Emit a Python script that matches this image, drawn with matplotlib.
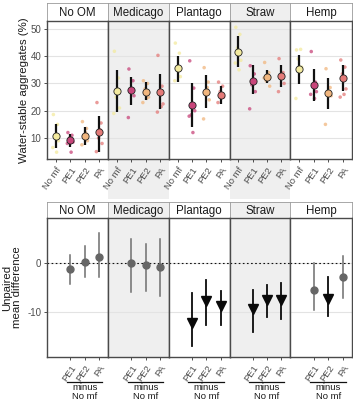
import matplotlib
matplotlib.use("Agg")
import matplotlib.pyplot as plt
from matplotlib.patches import Rectangle
from matplotlib.lines import Line2D
import matplotlib.transforms as mtransforms

plt.rcParams['font.family'] = ['Liberation Sans', 'DejaVu Sans']

treatments = ['No OM', 'Medicago', 'Plantago', 'Straw', 'Hemp']
fungi = ['No mf', 'PE1', 'PE2', 'PA']
shaded = [False, True, False, True, False]

# Top panel: group means and 95% CI of water-stable aggregates (%)
means = [
    [10.8, 9.2, 10.8, 12.2],
    [27.2, 27.5, 27.0, 26.8],
    [35.6, 22.0, 27.0, 25.8],
    [41.7, 31.0, 32.5, 32.7],
    [35.2, 29.4, 26.4, 31.9],
]
ci_lo = [
    [6.3, 6.8, 7.5, 5.0],
    [19.5, 22.0, 24.0, 20.5],
    [30.7, 14.2, 21.0, 22.4],
    [36.2, 26.1, 30.3, 28.6],
    [29.9, 23.6, 20.7, 27.4],
]
ci_hi = [
    [15.2, 11.5, 14.0, 18.0],
    [35.0, 32.5, 30.5, 33.5],
    [40.2, 30.1, 33.0, 29.1],
    [47.4, 36.6, 35.0, 36.6],
    [40.5, 35.2, 32.1, 36.8],
]
raw = [
    [[18.6, 15.0, 11.0, 9.0, 6.5, 4.8], [12.0, 11.0, 10.0, 8.5, 8.0, 4.8],
     [16.0, 13.5, 11.0, 9.0, 7.5, 12.0], [23.0, 15.5, 10.0, 8.0, 5.0, 13.0]],
    [[41.8, 32.0, 25.0, 21.0, 19.0, 28.0], [35.3, 31.0, 27.0, 25.5, 17.5, 28.0],
     [31.0, 30.0, 28.0, 25.0, 23.0, 24.5], [40.3, 29.0, 27.0, 22.5, 19.5, 21.5]],
    [[44.8, 41.1, 35.0, 32.5, 31.0, 36.0], [38.3, 28.3, 18.5, 20.0, 18.0, 12.0],
     [35.8, 30.5, 27.0, 24.0, 17.0, 28.5], [30.5, 29.0, 27.0, 25.0, 23.0, 26.0]],
    [[50.6, 48.0, 43.0, 38.5, 37.5, 35.0], [36.5, 33.5, 29.5, 27.0, 20.7, 31.0],
     [37.7, 34.0, 31.0, 29.0, 32.0, 33.0], [39.1, 34.0, 32.0, 30.0, 27.0, 33.5]],
    [[42.3, 42.5, 39.0, 36.0, 24.5, 35.0], [41.7, 30.5, 29.0, 27.0, 26.0, 24.5],
     [35.4, 28.5, 27.0, 25.5, 15.0, 26.0], [38.6, 36.0, 33.5, 28.0, 25.0, 26.0]],
]

# Bottom panel: unpaired mean difference (PE1, PE2, PA minus No mf)
diff_groups = ['PE1', 'PE2', 'PA']
diff_mean = [
    [-1.2, 0.3, 1.2],
    [0.1, -0.4, -0.8],
    [-12.3, -7.7, -8.8],
    [-9.3, -7.6, -7.6],
    [-5.5, -7.3, -2.8],
]
diff_lo = [
    [-4.3, -2.9, -2.9],
    [-5.9, -5.7, -6.7],
    [-16.9, -12.7, -12.7],
    [-14.0, -11.0, -11.5],
    [-9.6, -10.8, -7.2],
]
diff_hi = [
    [1.6, 3.5, 6.1],
    [4.9, 3.9, 4.9],
    [-6.2, -3.5, -5.7],
    [-5.6, -4.5, -4.0],
    [0.1, -2.9, 1.5],
]

colors = ['#F3EA9E', '#C8457A', '#F1B67E', '#E47A78']
jit = [-0.16, 0.12, -0.05, 0.19, -0.2, 0.06]

W, H = 353, 400
fig = plt.figure(figsize=(W / 100, H / 100), dpi=100)

def fx(px):
    return px / W

def fy(py):
    return 1 - py / H

cols = [47, 108, 169, 229.5, 290, 352]
GREY = '#EFEFEF'
TICKC = '#4D4D4D'
BORDER = '#4A4A4A'

t_strip_top, t_plot_top, t_plot_bot = 3, 21, 159
b_strip_top, b_plot_top, b_plot_bot = 202, 218, 357

for i in range(5):
    if shaded[i]:
        x0, x1 = cols[i], cols[i + 1]
        fig.patches.append(Rectangle((fx(x0), fy(199)), fx(x1 - x0), (199 - t_strip_top) / H,
                                     transform=fig.transFigure, facecolor=GREY,
                                     edgecolor='none', zorder=-5))
        fig.patches.append(Rectangle((fx(x0), fy(b_plot_bot)), fx(x1 - x0),
                                     (b_plot_bot - b_strip_top) / H,
                                     transform=fig.transFigure, facecolor=GREY,
                                     edgecolor='none', zorder=-5))

def make_strip(i, top, bot, label):
    x0, x1 = cols[i], cols[i + 1]
    sa = fig.add_axes([fx(x0), fy(bot), fx(x1 - x0), (bot - top) / H])
    sa.set_facecolor(GREY if shaded[i] else 'white')
    sa.set_xticks([]); sa.set_yticks([])
    for s in sa.spines.values():
        s.set_color('#9A9A9A'); s.set_linewidth(0.6)
    sa.text(0.5, 0.45, label, ha='center', va='center', fontsize=8.3,
            color='#1A1A1A', transform=sa.transAxes)

for i, tr in enumerate(treatments):
    x0, x1 = cols[i], cols[i + 1]
    fc = GREY if shaded[i] else 'white'
    # ---------- top ----------
    make_strip(i, t_strip_top, t_plot_top, tr)
    ax = fig.add_axes([fx(x0), fy(t_plot_bot), fx(x1 - x0), (t_plot_bot - t_plot_top) / H])
    ax.set_facecolor(fc)
    ax.set_xlim(0.4, 4.6)
    ax.set_ylim(2.3, 52.9)
    ax.set_yticks([10, 20, 30, 40, 50])
    ax.grid(axis='y', color='#E3E3E3', lw=0.8)
    ax.set_axisbelow(True)
    for j in range(4):
        xp = j + 1
        ax.scatter([xp + jit[k] for k in range(len(raw[i][j]))], raw[i][j],
                   s=6.5, color=colors[j], alpha=0.75, edgecolors='none', zorder=2)
        ax.plot([xp, xp], [ci_lo[i][j], ci_hi[i][j]], color='#111111', lw=1.6,
                zorder=3, solid_capstyle='butt')
        ax.plot([xp], [means[i][j]], marker='o', ms=5.2, mfc=colors[j],
                mec='#222222', mew=0.6, zorder=4)
    ax.set_xticks([1, 2, 3, 4])
    ax.set_xticklabels(fungi, rotation=55, ha='right', va='top',
                       rotation_mode='anchor', fontsize=6.8, color=TICKC)
    ax.tick_params(axis='x', length=2.5, width=0.6, color='#333333', pad=2)
    if i == 0:
        ax.tick_params(axis='y', length=2.5, width=0.6, color='#333333',
                       labelsize=7, labelcolor=TICKC, pad=1.5)
        ax.set_ylabel('Water-stable aggregates (%)', fontsize=8.2, color='#1A1A1A',
                      labelpad=1)
    else:
        ax.tick_params(axis='y', length=0, labelleft=False)
    for s in ax.spines.values():
        s.set_color(BORDER); s.set_linewidth(1.0)

    # ---------- bottom ----------
    make_strip(i, b_strip_top, b_plot_top, tr)
    bx = fig.add_axes([fx(x0), fy(b_plot_bot), fx(x1 - x0), (b_plot_bot - b_plot_top) / H])
    bx.set_facecolor(fc)
    bx.set_xlim(0.4, 4.6)
    bx.set_ylim(-19.2, 9.2)
    bx.set_yticks([-10, 0])
    bx.grid(axis='y', color='#E3E3E3', lw=0.8)
    bx.set_axisbelow(True)
    bx.axhline(0, color='#111111', lw=0.8, ls=(0, (1.5, 2.2)), zorder=2)
    for j in range(3):
        xp = j + 2
        sig = diff_hi[i][j] < 0 or diff_lo[i][j] > 0
        c = '#0A0A0A' if sig else '#6E6E6E'
        bx.plot([xp, xp], [diff_lo[i][j], diff_hi[i][j]], color=c,
                lw=1.3 if sig else 1.1, zorder=3)
        if sig:
            bx.plot([xp], [diff_mean[i][j]], marker='v', ms=6.6, color=c, zorder=4)
        else:
            bx.plot([xp], [diff_mean[i][j]], marker='o', ms=5.0, color='#666666', zorder=4)
    bx.set_xticks([2, 3, 4])
    bx.set_xticklabels(diff_groups, rotation=55, ha='right', va='top',
                       rotation_mode='anchor', fontsize=6.8, color=TICKC)
    bx.tick_params(axis='x', length=2.5, width=0.6, color='#333333', pad=2)
    if i == 0:
        bx.set_yticklabels(['-10', '0'])
        bx.tick_params(axis='y', length=2.5, width=0.6, color='#333333',
                       labelsize=7, labelcolor=TICKC, pad=1.5)
        bx.set_ylabel('Unpaired\nmean difference', fontsize=8.2, color='#1A1A1A',
                      labelpad=4, linespacing=1.0)
    else:
        bx.tick_params(axis='y', length=0, labelleft=False)
    for s in bx.spines.values():
        s.set_color(BORDER); s.set_linewidth(1.0)

    trans = mtransforms.blended_transform_factory(bx.transData, bx.transAxes)
    ly = -(382 - b_plot_bot) / (b_plot_bot - b_plot_top)
    bx.add_line(Line2D([1.75, 4.2], [ly, ly], transform=trans, color='#111111',
                       lw=0.9, clip_on=False))
    bx.text(3, ly - 0.01, 'minus\nNo mf', transform=trans, ha='center', va='top',
            fontsize=6.8, color='#1A1A1A', linespacing=0.9)

fig.savefig('out.png', dpi=100)
